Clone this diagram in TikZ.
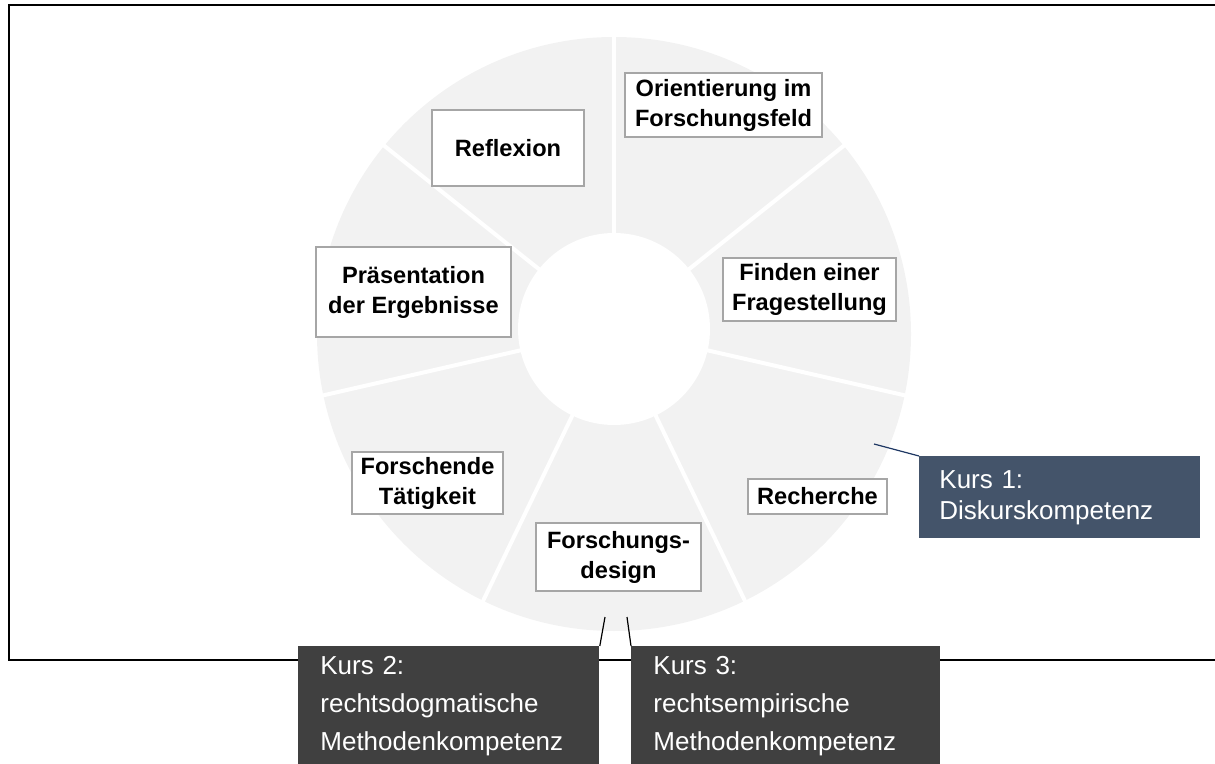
\documentclass[tikz,border=0pt]{standalone}
\usepackage{fontspec}
\setmainfont{Liberation Sans}
\usetikzlibrary{positioning}

\definecolor{WheelGray}{HTML}{F2F2F2}
\definecolor{BoxGray}{HTML}{A6A6A6}
\definecolor{KursBlue}{HTML}{44546A}
\definecolor{KursDark}{HTML}{404040}
\definecolor{LeadBlue}{HTML}{1F3864}

\begin{document}
\begin{tikzpicture}[
        % one unit = one pixel of the 1215x764 layout, y grows downwards
        x=0.5pt,y=-0.5pt,
        %Environment styles
        StepCfg/.style 2 args={
            draw=BoxGray,
            line width=0.75pt,
            fill=white,
            align=center,
            inner sep=0pt,
            font=\bfseries\fontsize{11.8}{15}\selectfont,
            minimum width={#1*0.5pt},
            minimum height={#2*0.5pt}
        },
        KursCfg/.style={
            anchor=north west,
            align=left,
            text=white,
            inner ysep=0pt
        },
        LeadCfg/.style={line width=0.6pt}
    ]
    \useasboundingbox (0,0) rectangle (1215,764);
    \clip (0,0) rectangle (1215,764);

    % open frame
    \draw[line width=1.1pt] (1230,5) -| (9,660) -- (1230,660);

    % wheel
    \coordinate (Rim) at (614,334);
    \coordinate (Hub) at (614,329);
    \fill[WheelGray] (Rim) circle[radius=148.5pt];
    \foreach \k in {0,...,6}
        \draw[white, line width=2pt] (Hub) -- ++({90-\k*360/7}:155pt);
    \fill[white] (Hub) circle[radius=48pt];

    % steps of the cycle
    \path
        (723.5,105) node[StepCfg={197}{64}](Orient){Orientierung im\\Forschungsfeld}
        (809.5,289.5) node[StepCfg={173}{63}](Frage){Finden einer\\Fragestellung}
        (817.5,496.5) node[StepCfg={139}{35}](Recherche){Recherche}
        (618.5,557) node[StepCfg={165}{68}](Design){Forschungs-\\design}
        (427.5,483) node[StepCfg={151}{62}](Taetig){Forschende\\Tätigkeit}
        (413.5,292) node[StepCfg={195}{90}](Praes){Präsentation\\der Ergebnisse}
        (508,148) node[StepCfg={152}{76}](Reflex){Reflexion};

    % courses
    \path
        (919,456) node[KursCfg, fill=KursBlue, minimum height=41pt,
            text width=120.5pt, inner xsep=10pt,
            font=\fontsize{13}{15.5}\selectfont](Kurs1){Kurs 1:\\Diskurskompetenz}
        (298,646) node[KursCfg, fill=KursDark, minimum height=60pt,
            text width=128.5pt, inner xsep=11pt,
            font=\fontsize{13}{19}\selectfont](Kurs2){Kurs 2:\\rechtsdogmatische\\Methodenkompetenz}
        (631,646) node[KursCfg, fill=KursDark, minimum height=60pt,
            text width=132.5pt, inner xsep=11pt,
            font=\fontsize{13}{19}\selectfont](Kurs3){Kurs 3:\\rechtsempirische\\Methodenkompetenz};

    \coordinate (Tip1) at (874,444);
    \coordinate (Tip2) at (605,617);
    \coordinate (Tip3) at (627,617);

    \draw[LeadCfg, LeadBlue] (Tip1) -- (Kurs1.north west);
    \draw[LeadCfg]
        (Tip2) -- (Kurs2.north east)
        (Tip3) -- (Kurs3.north west);
\end{tikzpicture}
\end{document}
